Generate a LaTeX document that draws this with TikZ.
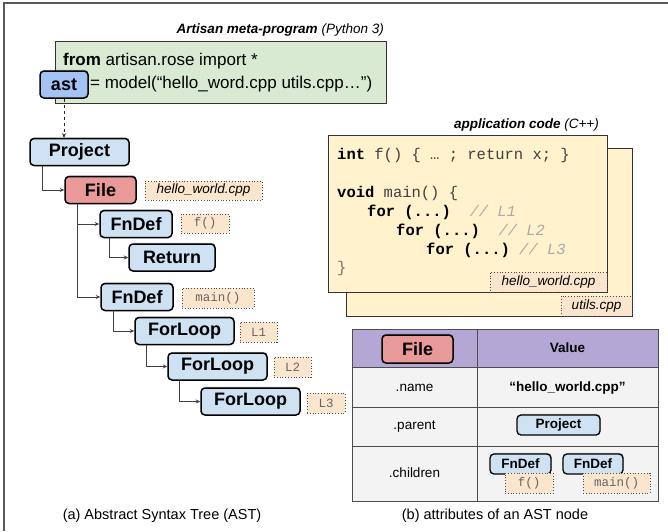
\documentclass[tikz,border=0pt]{standalone}
\usepackage{fontspec}
\setmainfont{Liberation Sans}
\setmonofont{Liberation Mono}
\usetikzlibrary{arrows.meta,shadows}
\definecolor{nodeblue}{HTML}{CFE2F3}
\definecolor{astblue}{HTML}{A4C2F4}
\definecolor{nodered}{HTML}{EA9999}
\definecolor{pygreen}{HTML}{D9EAD3}
\definecolor{codeyellow}{HTML}{FFF2CC}
\definecolor{lblorange}{HTML}{FCE5CD}
\definecolor{hdrpurple}{HTML}{B4A7D6}
\definecolor{rowgray}{HTML}{F3F3F3}
\definecolor{cmtgray}{HTML}{AAAAAA}
\newcommand{\myfs}[1]{\fontsize{#1}{#1}\selectfont}
\tikzset{
  astnode/.style={draw=black, line width=1.5pt, rounded corners=4pt, fill=nodeblue,
    font=\bfseries\myfs{18}, inner sep=0pt, minimum height=27pt,
    drop shadow={shadow xshift=0.6pt,shadow yshift=1.2pt,fill=black,opacity=0.25}},
  smallnode/.style={astnode, line width=1.3pt, font=\bfseries\myfs{13.5}, minimum height=20pt},
  lbl/.style={draw=black!70, dotted, line width=0.8pt, fill=lblorange, inner sep=0pt, minimum height=19pt},
  monolbl/.style={lbl, font=\ttfamily\myfs{12.5}, text=black!60},
  filelbl/.style={lbl, font=\itshape\myfs{13.5}},
  arr/.style={draw=black!75, line width=0.8pt, -{Stealth[length=4.5pt,width=4pt]}},
  codeline/.style={anchor=west, inner sep=0pt, font=\ttfamily\myfs{15.5}, text=black!75},
  cell/.style={inner sep=0pt, font=\myfs{13.5}},
  captext/.style={inner sep=0pt, font=\myfs{14.5}}
}
\begin{document}
\begin{tikzpicture}[x=1pt,y=-1pt]
\useasboundingbox (0,0) rectangle (668,531);
% outer frame
\draw[line width=1.5pt, black!65] (4,531) -- (4,3) -- (668,3);

% Python meta-program
\node[anchor=east, inner sep=0pt, font=\myfs{13.5}] (pytitle) at (384,30)
  {\textbf{\textit{Artisan meta-program}} \textit{(Python 3)}};
\draw[draw=black!80, line width=0.8pt, fill=pygreen] (55,41) rectangle (386,103);
\node[anchor=west, inner sep=0pt, font=\myfs{17}] (pyl1) at (63,61)
  {\textbf{from} artisan.rose import *};
\node[astnode, fill=astblue, minimum width=48pt] (ast) at (64,84.5) {ast};
\node[anchor=west, inner sep=0pt, font=\myfs{17}] (pyl2) at (90,84)
  {= model(“hello\_word.cpp utils.cpp…”)};

% AST tree
\node[astnode, minimum width=99pt] (project) at (79.5,152) {Project};
\node[astnode, fill=nodered, minimum width=71pt] (file) at (100.5,190) {File};
\node[astnode, minimum width=72pt] (fn1) at (136,224) {FnDef};
\node[astnode, minimum width=86pt] (ret) at (172,257.5) {Return};
\node[astnode, minimum width=72pt] (fn2) at (137,297) {FnDef};
\node[astnode, minimum width=99pt] (for1) at (184.5,331) {ForLoop};
\node[astnode, minimum width=99pt] (for2) at (217.5,366.5) {ForLoop};
\node[astnode, minimum width=99pt] (for3) at (250.5,401.5) {ForLoop};

\node[filelbl, minimum width=117pt] (lhello) at (203.5,190.5) {hello\_world.cpp};
\node[monolbl, minimum width=48pt] (lf) at (205,223.5) {f()};
\node[monolbl, minimum width=72pt, minimum height=20pt] (lmain) at (218,298) {main()};
\node[monolbl, minimum width=37pt, minimum height=20pt] (l1) at (258.5,332) {L1};
\node[monolbl, minimum width=37pt, minimum height=20pt] (l2) at (292.5,367) {L2};
\node[monolbl, minimum width=38pt, minimum height=20pt] (l3) at (326,403) {L3};

\draw[arr, dashed, draw=black!85] (ast.south) -- (ast.south |- project.north);
\draw[arr] ([xshift=13pt]project.south west) |- (file.west);
\draw[arr] ([xshift=13pt]file.south west) |- (fn1.west);
\draw[arr] ([xshift=13pt]file.south west) |- (fn2.west);
\draw[arr] ([xshift=10pt]fn1.south west) |- (ret.west);
\draw[arr] ([xshift=13pt]fn2.south west) |- (for1.west);
\draw[arr] ([xshift=12pt]for1.south west) |- (for2.west);
\draw[arr] ([xshift=12pt]for2.south west) |- (for3.west);

% application code
\node[anchor=east, inner sep=0pt, font=\myfs{13.5}] (cpptitle) at (599,125)
  {\textbf{\textit{application code}} \textit{(C++)}};
\draw[draw=black!80, line width=0.8pt, fill=codeyellow] (346,148) rectangle (632,316);
\draw[draw=black!80, line width=0.8pt, fill=codeyellow] (328,135) rectangle (607,292);
\node[codeline] (c1) at (337,155) {\textbf{\textcolor{black}{int}} f() \{ … ; return x; \}};
\node[codeline] (c2) at (337,193) {\textbf{\textcolor{black}{void}} main() \{};
\node[codeline] (c3) at (367,212) {\textbf{\textcolor{black}{for (...)}}~~\textcolor{cmtgray}{\textit{// L1}}};
\node[codeline] (c4) at (396,231) {\textbf{\textcolor{black}{for (...)}}~~\textcolor{cmtgray}{\textit{// L2}}};
\node[codeline] (c5) at (426,250) {\textbf{\textcolor{black}{for (...)}}~\textcolor{cmtgray}{\textit{// L3}}};
\node[codeline, text=black!55] (c6) at (337,268) {\}};
\node[filelbl, minimum width=117pt, minimum height=20pt] (chello) at (548.5,282) {hello\_world.cpp};
\node[filelbl, minimum width=71pt, minimum height=20pt] (cutils) at (596.5,306) {utils.cpp};

% attribute table
\fill[hdrpurple] (352,329) rectangle (658,367);
\fill[rowgray] (352,367) rectangle (658,501);
\draw[black!70, line width=0.8pt] (352,329) rectangle (658,501);
\draw[black!70, line width=0.8pt] (352,367) -- (658,367);
\draw[black!70, line width=0.8pt] (352,407) -- (658,407);
\draw[black!70, line width=0.8pt] (352,446) -- (658,446);
\draw[black!70, line width=0.8pt] (477,329) -- (477,501);

\node[astnode, fill=nodered, minimum width=71pt, minimum height=28pt] (tfile) at (417.5,349) {File};
\node[cell, font=\bfseries\myfs{13.5}] (tvalue) at (567.5,348) {Value};
\node[cell] (tname) at (414.5,388) {.name};
\node[cell, font=\bfseries\myfs{13.5}] (tnamev) at (567.5,388) {“hello\_world.cpp”};
\node[cell] (tparent) at (414.5,427) {.parent};
\node[smallnode, minimum width=83pt] (tproj) at (558.5,425) {Project};
\node[cell] (tchildren) at (414.5,473) {.children};
\node[smallnode, minimum width=61pt] (tfn1) at (520.5,464) {FnDef};
\node[smallnode, minimum width=60pt] (tfn2) at (593,464) {FnDef};
\node[monolbl, minimum width=48pt, minimum height=20pt] (tf) at (529,483) {f()};
\node[monolbl, minimum width=67pt, minimum height=20pt] (tmain) at (616.5,483) {main()};

% captions
\node[captext] (capa) at (162,516) {(a) Abstract Syntax Tree (AST)};
\node[captext] (capb) at (495,516) {(b) attributes of an AST node};
\end{tikzpicture}
\end{document}
